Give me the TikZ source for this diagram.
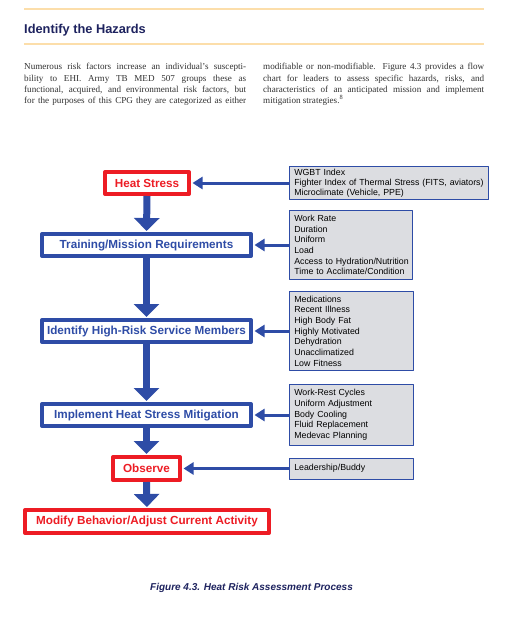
\documentclass[tikz,border=0pt]{standalone}
\usepackage{fontspec}
\setmainfont{Liberation Serif}
\setsansfont{Liberation Sans}
\usetikzlibrary{arrows.meta}
\definecolor{flowblue}{RGB}{46,76,166}
\definecolor{flowred}{RGB}{237,28,36}
\definecolor{listgray}{RGB}{220,221,225}
\definecolor{rulegold}{RGB}{252,222,170}
\definecolor{navy}{RGB}{30,35,95}
\definecolor{bodytext}{RGB}{50,50,50}
\begin{document}
\begin{tikzpicture}[x=1pt,y=-1pt, line join=round,
	flowbox/.style={draw=flowblue,line width=4pt,fill=white,text=flowblue,inner sep=0pt,
		font=\sffamily\bfseries\fontsize{11.7}{13}\selectfont},
	redflow/.style={flowbox,draw=flowred,text=flowred},
	listbox/.style={draw=flowblue,line width=1pt,fill=listgray,anchor=west,inner xsep=4.5pt,inner ysep=2pt,
		align=left,font=\sffamily\fontsize{8.8}{10.7}\selectfont},
	downarrow/.style={flowblue,line width=7pt,-{Triangle[width=25pt,length=13pt]},shorten >=1pt},
	feedarrow/.style={flowblue,line width=3pt,-{Triangle[width=12pt,length=10pt]},shorten >=1.5pt}]
	\fill[white] (0,0) rectangle (512,640);
	\useasboundingbox (0,0) rectangle (512,640);
	\draw[rulegold,line width=1.2pt] (24,9)--(484,9);
	\draw[rulegold,line width=1.2pt] (24,44)--(484,44);
	\node[anchor=base west,inner sep=0pt,text=navy,font=\sffamily\bfseries\fontsize{12.8}{15}\selectfont] (title) at (24,33) {Identify the Hazards};
	\node[anchor=north west,inner sep=0pt,align=left,text=bodytext,font=\fontsize{9.1}{11.3}\selectfont] (leftcol) at (24,63.3) {%
		\makebox[222pt][s]{Numerous risk factors increase an individual's suscepti-}\\
		\makebox[222pt][s]{bility to EHI. Army TB MED 507 groups these as}\\
		\makebox[222pt][s]{functional, acquired, and environmental risk factors, but}\\
		\makebox[222pt][s]{for the purposes of this CPG they are categorized as either}};
	\node[anchor=north west,inner sep=0pt,align=left,text=bodytext,font=\fontsize{9.1}{11.3}\selectfont] (rightcol) at (263,63.3) {%
		\makebox[221pt][s]{modifiable or non-modifiable. Figure 4.3 provides a flow}\\
		\makebox[221pt][s]{chart for leaders to assess specific hazards, risks, and}\\
		\makebox[221pt][s]{characteristics of an anticipated mission and implement}\\
		mitigation strategies.\textsuperscript{8}};

	\node[redflow,minimum width=84pt,minimum height=22pt] (heat) at (147,183) {Heat Stress};
	\node[flowbox,minimum width=209pt,minimum height=22pt] (train) at (146.5,245) {Training/Mission Requirements};
	\node[flowbox,minimum width=209pt,minimum height=22pt] (ident) at (146.5,331) {Identify High-Risk Service Members};
	\node[flowbox,minimum width=209pt,minimum height=22pt] (impl) at (146.5,415) {Implement Heat Stress Mitigation};
	\node[redflow,minimum width=67pt,minimum height=23pt] (observe) at (146.5,468.5) {Observe};
	\node[redflow,minimum width=244pt,minimum height=23pt] (modify) at (147,521.5) {Modify Behavior/Adjust Current Activity};

	\node[listbox,minimum width=199pt,minimum height=33pt,text width=190pt,font=\sffamily\fontsize{8.8}{10}\selectfont] (heatlist) at (289.3,183)
		{WGBT Index\\\mbox{Fighter Index of Thermal Stress (FITS, aviators)}\\Microclimate (Vehicle, PPE)};
	\node[listbox,minimum width=123pt,minimum height=69pt,text width=114pt] (trainlist) at (289.3,245)
		{Work Rate\\Duration\\Uniform\\Load\\\mbox{Access to Hydration/Nutrition}\\\mbox{Time to Acclimate/Condition}};
	\node[listbox,minimum width=124pt,minimum height=79pt,text width=115pt] (identlist) at (289.3,331)
		{Medications\\Recent Illness\\High Body Fat\\Highly Motivated\\Dehydration\\Unacclimatized\\Low Fitness};
	\node[listbox,minimum width=124pt,minimum height=61pt,text width=115pt] (impllist) at (289.3,415)
		{Work-Rest Cycles\\Uniform Adjustment\\Body Cooling\\Fluid Replacement\\Medevac Planning};
	\node[listbox,minimum width=124pt,minimum height=21pt,text width=115pt] (obslist) at (289.3,468.5)
		{Leadership/Buddy};

	\draw[downarrow] (heat.south)--(train.north);
	\draw[downarrow] (train.south)--(ident.north);
	\draw[downarrow] (ident.south)--(impl.north);
	\draw[downarrow] (impl.south)--(observe.north);
	\draw[downarrow] (observe.south)--(modify.north);

	\draw[feedarrow] (heatlist.west)--(heat.east);
	\draw[feedarrow] (trainlist.west)--(train.east);
	\draw[feedarrow] (identlist.west)--(ident.east);
	\draw[feedarrow] (impllist.west)--(impl.east);
	\draw[feedarrow] (obslist.west)--(observe.east);

	\node[anchor=base,inner sep=0pt,text=navy,font=\sffamily\bfseries\itshape\fontsize{10}{12}\selectfont] (caption) at (251.5,590.5)
		{Figure 4.3. Heat Risk Assessment Process};
\end{tikzpicture}
\end{document}
